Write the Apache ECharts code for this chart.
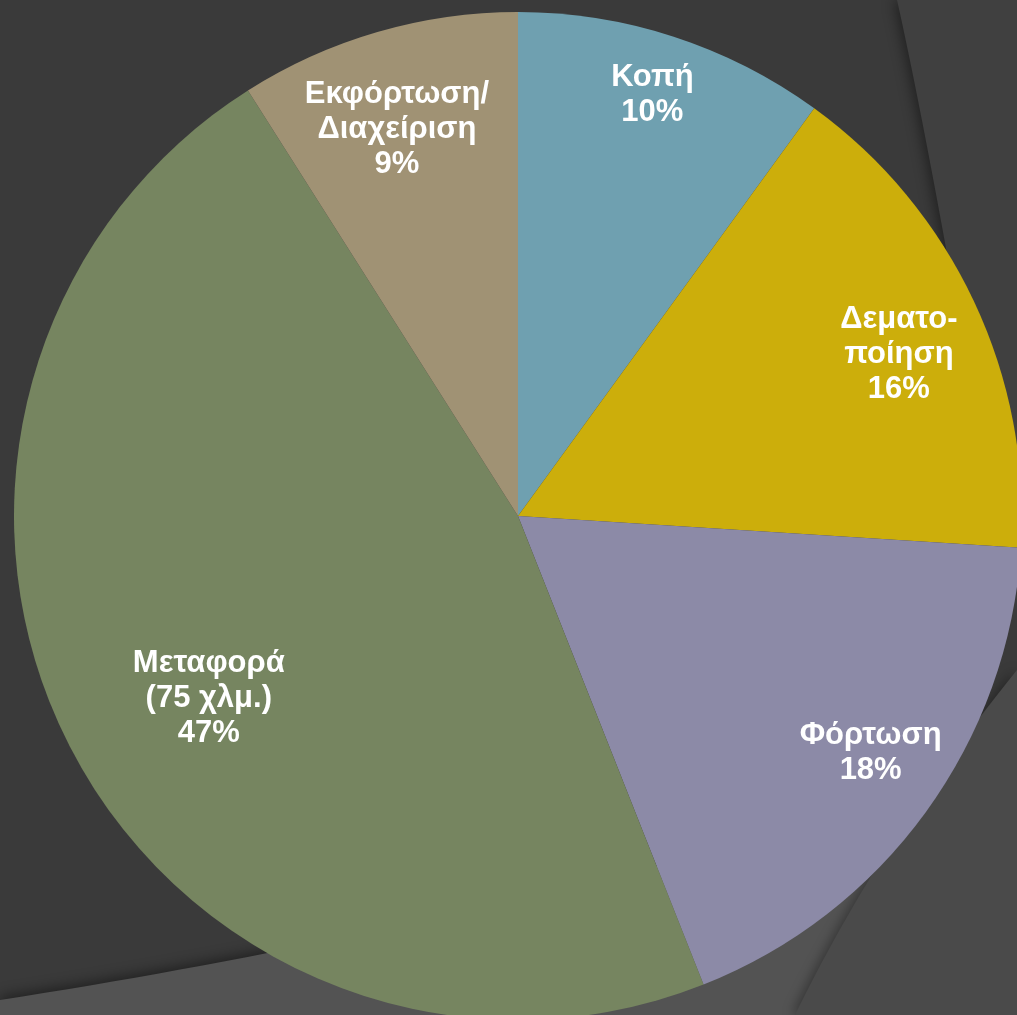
<!DOCTYPE html>
<html>
<head>
<meta charset="utf-8">
<script src="https://cdn.jsdelivr.net/npm/echarts@6/dist/echarts.min.js"></script>
<style>
html,body{margin:0;padding:0;background:#3a3a3a;}
#chart{width:1017px;height:1015px;}
</style>
</head>
<body>
<div id="chart"></div>
<script>
// ---- data ----
const categories = ['Κοπή', 'Δεματο-\nποίηση', 'Φόρτωση', 'Μεταφορά\n(75 χλμ.)', 'Εκφόρτωση/\nΔιαχείριση'];
const values = [10, 16, 18, 47, 9];
const colors = ['#6FA0B0', '#CCAE0B', '#8C8AA7', '#768560', '#A09274'];

// ---- layout / style ----
const W = 1017, H = 1015;
const CX = 518, CY = 516, R = 504;
const labelRatio = [0.877, 0.821, 0.843, 0.712, 0.803];
const labelAngleShift = [-0.3, 2.2, -2.1, -3.5, -1.2];

function quadPts(p0, c, p1, n) {
  const pts = [];
  for (let i = 0; i <= n; i++) {
    const t = i / n, u = 1 - t;
    pts.push([u*u*p0[0] + 2*u*t*c[0] + t*t*p1[0], u*u*p0[1] + 2*u*t*c[1] + t*t*p1[1]]);
  }
  return pts;
}

const bandRight = quadPts([897, 0], [935, 170], [1000, 560], 40).concat([[1017, 560], [1017, 0]]);
const bandBottom = quadPts([0, 1000], [450, 930], [900, 800], 40).concat([[1017, 800], [1017, 1015], [0, 1015]]);
const bandCorner = quadPts([795, 1015], [880, 840], [1017, 670], 40).concat([[1017, 1015]]);

const total = values.reduce((a, b) => a + b, 0);
const midAngles = [];
{
  let acc = 0;
  values.forEach(v => { midAngles.push((acc + v / 2) / total * 360); acc += v; });
}

const chart = echarts.init(document.getElementById('chart'), null, {renderer: 'canvas'});
chart.setOption({
  backgroundColor: '#3A3A3A',
  animation: false,
  graphic: [
    {type: 'polygon', z: -10, shape: {points: bandRight},
     style: {fill: '#404040', shadowBlur: 14, shadowColor: 'rgba(0,0,0,0.45)', shadowOffsetX: -3}},
    {type: 'polygon', z: -9, shape: {points: bandBottom},
     style: {fill: '#535353', shadowBlur: 14, shadowColor: 'rgba(0,0,0,0.45)', shadowOffsetY: -3}},
    {type: 'polygon', z: -8, shape: {points: bandCorner},
     style: {fill: '#4A4A4A', shadowBlur: 12, shadowColor: 'rgba(0,0,0,0.35)', shadowOffsetX: -3}}
  ],
  series: [{
    type: 'pie',
    center: [CX, CY],
    radius: R,
    startAngle: 90,
    clockwise: true,
    silent: true,
    itemStyle: {borderWidth: 0},
    data: categories.map((name, i) => ({name: name, value: values[i], itemStyle: {color: colors[i]}})),
    label: {
      show: true,
      position: 'inside',
      formatter: p => p.name + '\n' + Math.round(p.percent) + '%',
      color: '#FFFFFF',
      fontFamily: 'Liberation Sans, Arial, sans-serif',
      fontWeight: 'bold',
      fontSize: 31,
      lineHeight: 35,
      align: 'center',
      verticalAlign: 'middle'
    },
    labelLine: {show: false},
    labelLayout: function (params) {
      const i = params.dataIndex;
      const a = (midAngles[i] + labelAngleShift[i]) * Math.PI / 180;
      const r = R * labelRatio[i];
      return {x: CX + r * Math.sin(a), y: CY - r * Math.cos(a)};
    }
  }]
});
</script>
</body>
</html>
